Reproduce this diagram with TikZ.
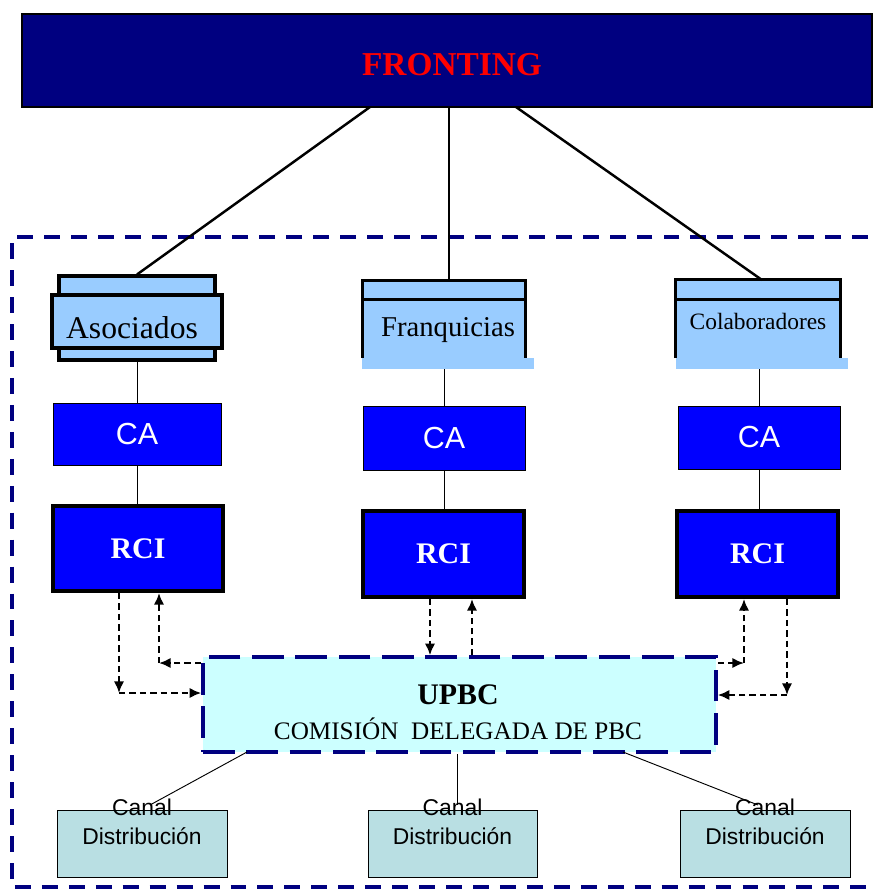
\documentclass[tikz,border=0pt]{standalone}
\usepackage{fontspec}
\setmainfont{Liberation Serif}
\setsansfont{Liberation Sans}
\usetikzlibrary{arrows.meta}

\definecolor{navy}{RGB}{0,0,128}
\definecolor{azul}{RGB}{0,0,255}
\definecolor{celeste}{RGB}{153,204,255}
\definecolor{cian}{RGB}{204,255,255}
\definecolor{verdoso}{RGB}{185,223,227}

\tikzset{
  sz/.style 2 args={minimum width=#1*0.03cm,minimum height=#2*0.03cm,inner sep=0pt},
  cabox/.style={draw=black,line width=0.8pt,fill=azul,text=white,font=\sffamily\fontsize{26}{30}\selectfont},
  rcibox/.style={draw=black,line width=3.4pt,fill=azul,text=white,font=\bfseries\fontsize{25.5}{30}\selectfont},
  canalbox/.style={draw=black,line width=0.8pt,fill=verdoso},
  canaltxt/.style={align=center,font=\sffamily\fontsize{19.5}{24.7}\selectfont},
  darr/.style={-{Latex[length=10pt,width=9pt]},dash pattern=on 5.5pt off 3.4pt,line width=2.4pt},
  fino/.style={line width=0.8pt},
  grueso/.style={line width=2.6pt}
}

\begin{document}
\begin{tikzpicture}[x=0.03cm,y=-0.03cm]
  \useasboundingbox (0,0) rectangle (876,891);

  % marco punteado
  \draw[navy,line width=2.6pt,dash pattern=on 13.6pt off 9.4pt] (895,237) -- (12,237) -- (12,887) -- (895,887);

  \node[sz={850}{93},draw=black,line width=2.5pt,fill=navy] (front) at (447,60.5) {};
  \node[text=red,font=\bfseries\fontsize{28.5}{32}\selectfont] (frontt) at (452,65) {FRONTING};

  % Asociados
  \node[sz={156}{84},draw,grueso,fill=celeste] (asoc) at (137,318) {};
  \node[sz={170}{53},draw,grueso,fill=celeste] (asocf) at (137,321.5) {};
  \node[font=\fontsize{27}{30}\selectfont] (asoct) at (132,328) {Asociados};

  % Franquicias
  \node[sz={162}{77},fill=celeste] (franq) at (444,319.5) {};
  \fill[celeste] (franq.south west) ++(-1,0) rectangle ++(172,11);
  \draw[grueso] (franq.south west) -- (franq.north west) -- (franq.north east) -- (franq.south east);
  \draw[grueso] (franq.north west) ++(0,19) -- ++(162,0);
  \node[font=\fontsize{24.5}{28}\selectfont] (franqt) at (448,330) {Franquicias};

  % Colaboradores
  \node[sz={164}{78},fill=celeste] (colab) at (758,319) {};
  \fill[celeste] (colab.south west) rectangle ++(172,11);
  \draw[grueso] (colab.south west) -- (colab.north west) -- (colab.north east) -- (colab.south east);
  \draw[grueso] (colab.north west) ++(0,20) -- ++(164,0);
  \node[font=\fontsize{20}{24}\selectfont] (colabt) at (758,321) {Colaboradores};

  \coordinate (f1) at (370,107);
  \coordinate (f2) at (449,107);
  \coordinate (f3) at (516,107);
  \draw[line width=2.1pt] (f1) -- (asoc.north);
  \draw[line width=2.1pt] (f2) -- (f2 |- franq.north);
  \draw[line width=2.1pt] (f3) -- (762,280);

  \node[cabox,sz={168}{62}] (ca1) at (137,434) {CA};
  \node[cabox,sz={162}{64}] (ca2) at (444,438) {CA};
  \node[cabox,sz={162}{63}] (ca3) at (759,437.5) {CA};

  \node[rcibox,sz={170}{85}] (rci1) at (138,548.5) {RCI};
  \node[rcibox,sz={161}{86}] (rci2) at (443.5,554) {RCI};
  \node[rcibox,sz={161}{86}] (rci3) at (757.5,554) {RCI};

  \draw[fino] (asoc.south) -- (ca1.north);
  \draw[fino] (ca2.north |- franq.south) ++(0,11) -- (ca2.north);
  \draw[fino] (ca3.north |- colab.south) ++(0,11) -- (ca3.north);
  \draw[fino] (ca1.south) -- (ca1.south |- rci1.north);
  \draw[fino] (ca2.south) -- (ca2.south |- rci2.north);
  \draw[fino] (ca3.south) -- (ca3.south |- rci3.north);

  \node[sz={513}{95},draw=navy,line width=3pt,dash pattern=on 27pt off 10pt,fill=cian] (upbc) at (459.5,704.5) {};
  \node[align=center,font=\fontsize{21.5}{30}\selectfont] (upbct) at (458,712) {{\bfseries\fontsize{25.5}{30}\selectfont UPBC}\\COMISIÓN\ \ DELEGADA DE PBC};

  % flechas RCI <-> UPBC
  \coordinate (la) at (119,693);
  \coordinate (lb) at (159,663);
  \coordinate (ma) at (430,620);
  \coordinate (mb) at (472,620);
  \coordinate (ra) at (744,663);
  \coordinate (rb) at (787,695);
  \draw[darr] (rci1.south -| la) -- (la);
  \draw[darr] (la) -- (upbc.west |- la);
  \draw[darr] (upbc.west |- lb) -- (lb);
  \draw[darr] (lb) -- (rci1.south -| lb);
  \draw[darr] (rci2.south -| ma) -- (upbc.north -| ma);
  \draw[darr] (upbc.north -| mb) -- (rci2.south -| mb);
  \draw[darr] (upbc.east |- ra) -- (ra);
  \draw[darr] (ra) -- (rci3.south -| ra);
  \draw[darr] (rci3.south -| rb) -- (rb);
  \draw[darr] (rb) -- (upbc.east |- rb);

  \node[canalbox,sz={170}{67}] (can1) at (142,843.5) {};
  \node[canalbox,sz={169}{67}] (can2) at (452.5,843.5) {};
  \node[canalbox,sz={170}{67}] (can3) at (765,843.5) {};

  \coordinate (u1) at (247,752);
  \coordinate (u3) at (623,752);
  \draw[fino] (u1) -- (150,805);
  \draw[fino] (upbc.south -| 457,0) -- (457,805);
  \draw[fino] (u3) -- (758,805);

  \node[canaltxt] (can1t) at (142,822) {Canal\\Distribución};
  \node[canaltxt] (can2t) at (452.5,822) {Canal\\Distribución};
  \node[canaltxt] (can3t) at (765,822) {Canal\\Distribución};
\end{tikzpicture}
\end{document}
